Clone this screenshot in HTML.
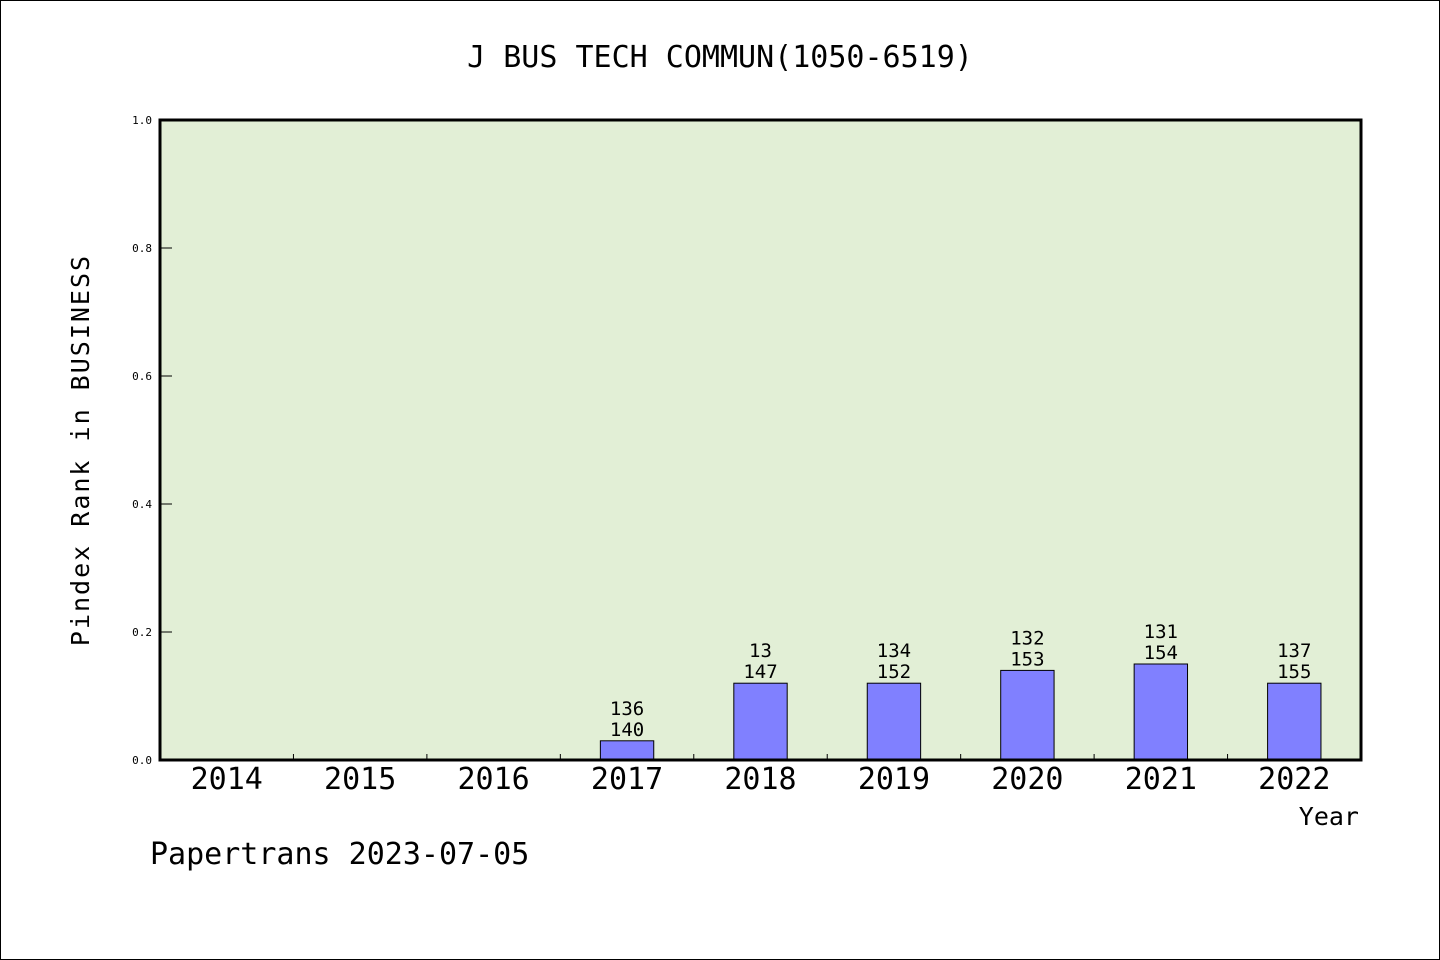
<!DOCTYPE html>
<html><head><meta charset="utf-8">
<style>
html,body{margin:0;padding:0;background:#fff}
svg{display:block}
text{font-family:"WenQuanYi Zen Hei","DejaVu Sans Mono","Liberation Sans",sans-serif;fill:#000}
</style></head>
<body>
<svg id="chart" width="1440" height="960" viewBox="0 0 1440 960">
<rect x="0.5" y="0.5" width="1439" height="959" fill="#fff" stroke="#000" stroke-width="1"/>
<text x="720" y="67" font-size="30" text-anchor="middle">J BUS TECH COMMUN(1050-6519)</text>
<rect x="160" y="120" width="1201" height="640" fill="#e2efd6"/>
<g id="bars"></g>
<g id="axes"></g>
<rect x="160" y="120" width="1201" height="640" fill="none" stroke="#000" stroke-width="3"/>
<text transform="translate(89,450) rotate(-90)" font-size="25" text-anchor="middle" letter-spacing="2">Pindex Rank in BUSINESS</text>
<text x="1359" y="825" font-size="25" text-anchor="end">Year</text>
<text x="150" y="864" font-size="30">Papertrans 2023-07-05</text>
</svg>
<script>
const categories = ["2014","2015","2016","2017","2018","2019","2020","2021","2022"];
const values = [0,0,0,0.03,0.12,0.12,0.14,0.15,0.12];
const topLabels = ["","","","136","13","134","132","131","137"];
const bottomLabels = ["","","","140","147","152","153","154","155"];
const yTicks = [0,0.2,0.4,0.6,0.8,1.0];

const NS="http://www.w3.org/2000/svg";
const X0=160,X1=1361,Y0=760,Y1=120;
const band=(X1-X0)/categories.length;
const xc=i=>X0+band*(i+0.5);
const y=v=>Y0-(v)*(Y0-Y1);
function mk(tag,attrs,parent){const e=document.createElementNS(NS,tag);for(const k in attrs)e.setAttribute(k,attrs[k]);parent.appendChild(e);return e;}
const bars=document.getElementById('bars'),axes=document.getElementById('axes');
categories.forEach((c,i)=>{
  const v=values[i];
  if(v>0){
    const bw=band*0.4;
    const r=mk('rect',{x:xc(i)-bw/2,y:y(v),width:bw,height:Y0-y(v),fill:'#8080ff',stroke:'#000','stroke-width':1},bars);
    
    
  }
  if(topLabels[i]){
    const t=mk('text',{x:xc(i),y:y(v)-26,'font-size':19,'text-anchor':'middle'},bars);t.textContent=topLabels[i];
    
    
  }
  if(bottomLabels[i]){
    const t=mk('text',{x:xc(i),y:y(v)-5,'font-size':19,'text-anchor':'middle'},bars);t.textContent=bottomLabels[i];
    
    
  }
  const tl=mk('text',{x:xc(i),y:789,'font-size':30,'text-anchor':'middle'},axes);tl.textContent=c;
  
  
  if(i>0){
    const tk=mk('line',{x1:X0+band*i,x2:X0+band*i,y1:Y0,y2:Y0-6,stroke:'#000','stroke-width':1},axes);
    
    
  }
});
yTicks.forEach(v=>{
  const tk=mk('line',{x1:X0,x2:X0+12,y1:y(v),y2:y(v),stroke:'#000','stroke-width':1},axes);
  
  
  const t=mk('text',{x:152,y:y(v)+4,'font-size':11,'text-anchor':'end'},axes);t.textContent=v.toFixed(1);
  
  
});
</script>
</body></html>
